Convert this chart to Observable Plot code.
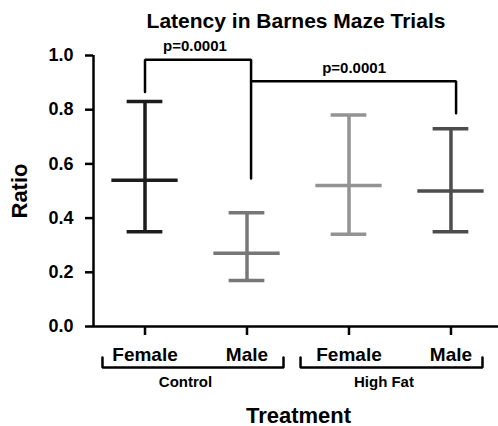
<!DOCTYPE html>
<html>
<head>
<meta charset="utf-8">
<script src="https://cdn.jsdelivr.net/npm/d3@7"></script>
<script src="https://cdn.jsdelivr.net/npm/@observablehq/plot@0.6"></script>
<style>
  html, body { margin: 0; padding: 0; background: #ffffff; }
  #chart svg { display: block; }
</style>
</head>
<body>
<div id="chart"></div>
<script>
// ---- data ----
const groups = ["Control", "Control", "High Fat", "High Fat"];
const sexes  = ["Female", "Male", "Female", "Male"];
const means  = [0.54, 0.27, 0.52, 0.50];
const upper  = [0.83, 0.42, 0.78, 0.73];
const lower  = [0.35, 0.17, 0.34, 0.35];
const colors = ["#1c1c1c", "#777777", "#939393", "#4d4d4d"];

const yTicks = [0, 0.2, 0.4, 0.6, 0.8, 1.0];

// significance brackets (category index, ratio)
const sig1 = [[0, 0.865], [0, 0.984], [1.04, 0.984], [1.04, 0.546]];
const sig2 = [[1.04, 0.905], [3.05, 0.905], [3.05, 0.787]];
const pLabels = ["p=0.0001", "p=0.0001"];
const pX = [0.49, 2.05];
const pY = [1.016, 0.935];

// group brackets under the axis
const groupNames = ["Control", "High Fat"];
const groupLeft  = [-0.417, 1.525];
const groupRight = [1.358, 3.309];
const groupLabelX = [0.397, 2.343];

const title = "Latency in Barnes Maze Trials";
const xTitle = "Treatment";
const yTitle = "Ratio";

// ---- build ----
const rows = sexes.map((s, i) => ({i, sex: s, group: groups[i], mean: means[i], hi: upper[i], lo: lower[i], color: colors[i]}));
const capHalf = 0.175, meanHalf = 0.325;
const brkTop = -0.114, brkBot = -0.151;
const groupBrackets = groupNames.map((g, k) => [
  {k, x: groupLeft[k], y: brkTop}, {k, x: groupLeft[k], y: brkBot},
  {k, x: groupRight[k], y: brkBot}, {k, x: groupRight[k], y: brkTop}
]).flat();

const font = "'Liberation Sans', Arial, Helvetica, sans-serif";

const chart = Plot.plot({
  width: 498,
  height: 426,
  marginLeft: 93,
  marginRight: 0,
  marginTop: 55,
  marginBottom: 100,
  style: {fontFamily: font, background: "#ffffff", color: "#000000", overflow: "visible"},
  x: {type: "linear", domain: [-0.505, 3.466]},
  y: {domain: [0, 1]},
  marks: [
    // axes
    Plot.axisY({ticks: yTicks, tickFormat: d3.format(".1f"), tickSize: 8, tickPadding: 12,
      fontSize: 18, fontWeight: "bold", strokeWidth: 2.5, label: null}),
    Plot.axisX({ticks: [0, 1, 2, 3], tickFormat: i => sexes[i], tickSize: 9, tickPadding: 12,
      fontSize: 19, fontWeight: "bold", strokeWidth: 2.5, label: null}),
    Plot.ruleX([-0.505], {y1: 0, y2: 1, strokeWidth: 2.5}),
    Plot.ruleY([0], {strokeWidth: 2.5}),
    // error bars
    Plot.ruleX(rows, {x: "i", y1: "lo", y2: "hi", stroke: "color", strokeWidth: 3.5}),
    Plot.ruleY(rows, {y: "hi", x1: d => d.i - capHalf, x2: d => d.i + capHalf, stroke: "color", strokeWidth: 3.5}),
    Plot.ruleY(rows, {y: "lo", x1: d => d.i - capHalf, x2: d => d.i + capHalf, stroke: "color", strokeWidth: 3.5}),
    Plot.ruleY(rows, {y: "mean", x1: d => d.i - meanHalf, x2: d => d.i + meanHalf, stroke: "color", strokeWidth: 3.5}),
    // significance brackets
    Plot.line(sig1, {x: d => d[0], y: d => d[1], stroke: "#000", strokeWidth: 2.5, strokeLinejoin: "miter", curve: "linear"}),
    Plot.line(sig2, {x: d => d[0], y: d => d[1], stroke: "#000", strokeWidth: 2.5, strokeLinejoin: "miter", curve: "linear"}),
    Plot.text(pLabels, {x: (d, i) => pX[i], y: (d, i) => pY[i], text: d => d, lineAnchor: "bottom",
      fontSize: 15, fontWeight: "bold", fill: "#000"}),
    // group brackets
    Plot.line(groupBrackets, {x: "x", y: "y", z: "k", stroke: "#000", strokeWidth: 2.5, strokeLinejoin: "miter"}),
    Plot.text(groupNames, {x: (d, i) => groupLabelX[i], y: -0.225, text: d => d, lineAnchor: "bottom",
      fontSize: 15, fontWeight: "bold", fill: "#000"}),
    // titles
    Plot.text([title], {frameAnchor: "top", dy: -28, text: d => d, lineAnchor: "bottom",
      fontSize: 21, fontWeight: "bold", fill: "#000"}),
    Plot.text([xTitle], {frameAnchor: "bottom", dy: 96, dx: 2.5, text: d => d, lineAnchor: "bottom",
      fontSize: 22, fontWeight: "bold", fill: "#000"}),
    Plot.text([yTitle], {y: [0.5], frameAnchor: "left", textAnchor: "middle", dx: -74, rotate: -90, text: d => d, lineAnchor: "middle",
      fontSize: 22, fontWeight: "bold", fill: "#000"})
  ]
});
document.getElementById("chart").appendChild(chart);
</script>
</body>
</html>
